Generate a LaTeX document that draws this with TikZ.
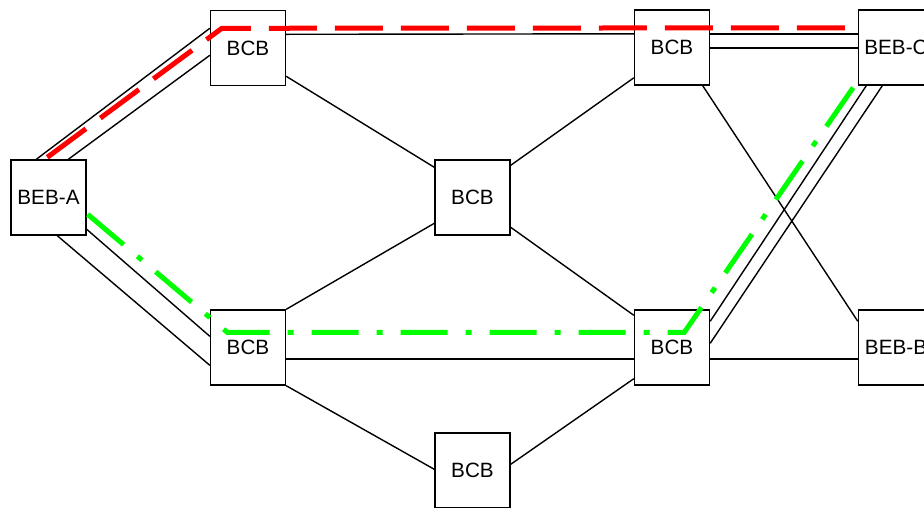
\documentclass[tikz,border=0pt]{standalone}
\usepackage{fontspec}
\setmainfont{Liberation Sans}
\pgfdeclarelayer{background}
\pgfsetlayers{background,main}
\begin{document}
\begin{tikzpicture}[x=1pt,y=-1pt,
  box/.style={draw=black,fill=white,line width=1.4pt,minimum width=75pt,minimum height=75pt,inner sep=0pt,font=\fontsize{20.7}{24}\selectfont},
  link/.style={draw=black,line width=1.4pt},
  redpath/.style={draw=red,line width=5pt,dash pattern=on 48pt off 18pt,line join=miter},
  greenpath/.style={draw=green,line width=5pt,dash pattern=on 47pt off 18pt on 6pt off 18pt}]
\useasboundingbox (0,0) rectangle (924,507);
\clip (0,0) rectangle (924,507);
\path
  (48.5,197.5) node[box] (A) {BEB-A}
  (248,48) node[box] (tl) {BCB}
  (472.5,197.5) node[box] (mid) {BCB}
  (672,47.5) node[box] (tr) {BCB}
  (896,47.5) node[box] (C) {BEB-C}
  (248,347.5) node[box] (ll) {BCB}
  (672,347.5) node[box] (lr) {BCB}
  (896,347.5) node[box] (B) {BEB-B}
  (472.5,470.5) node[box] (bot) {BCB};
\begin{pgfonlayer}{background}
\draw[link] ([shift={(26,0)}]A.north west) -- ([shift={(0,18.5)}]tl.north west);
\draw[link] ([shift={(58,0)}]A.north west) -- ([shift={(0,45.5)}]tl.north west);
\draw[link] ([shift={(0,70)}]A.north east) -- ([shift={(0,27)}]ll.north west);
\draw[link] ([shift={(47,0)}]A.south west) -- ([shift={(0,56)}]ll.north west);
\draw[link] ([shift={(0,24.5)}]tl.north east) -- ([shift={(0,24.5)}]tr.north west);
\draw[link] ([shift={(0,24.5)}]tr.north east) -- ([shift={(0,24.5)}]C.north west);
\draw[link] ([shift={(0,38.5)}]tr.north east) -- ([shift={(0,38.5)}]C.north west);
\draw[link] ([shift={(0,66.5)}]tl.north east) -- ([shift={(0,8)}]mid.north west);
\draw[link] ([shift={(0,6)}]mid.north east) -- ([shift={(0,68.5)}]tr.north west);
\draw[link] ([shift={(0,64)}]mid.north west) -- (ll.north east);
\draw[link] ([shift={(0,68)}]mid.north east) -- ([shift={(0,6)}]lr.north west);
\draw[link] ([shift={(0,49.5)}]ll.north east) -- ([shift={(0,49.5)}]lr.north west);
\draw[link] ([shift={(0,49.5)}]lr.north east) -- ([shift={(0,49.5)}]B.north west);
\draw[link] ([shift={(-7.5,0)}]tr.south east) -- ([shift={(0,12)}]B.north west);
\draw[link] ([shift={(8.5,0)}]C.south west) -- ([shift={(0,12)}]lr.north east);
\draw[link] ([shift={(24.5,0)}]C.south west) -- ([shift={(0,34)}]lr.north east);
\draw[link] (ll.south east) -- ([shift={(0,37)}]bot.north west);
\draw[link] ([shift={(0,32)}]bot.north east) -- ([shift={(0,-7)}]lr.south west);
\end{pgfonlayer}
\draw[redpath] ([shift={(37,-2)}]A.north west) -- ([shift={(12,18.5)}]tl.north west) -- ([shift={(-10.5,18.5)}]C.north west);
\draw[greenpath] ([shift={(1,55)}]A.north east) -- ([shift={(17.5,23)}]ll.north west) -- ([shift={(50.5,23)}]lr.north west) -- ([shift={(2.5,-8.5)}]C.south west);
\end{tikzpicture}
\end{document}
